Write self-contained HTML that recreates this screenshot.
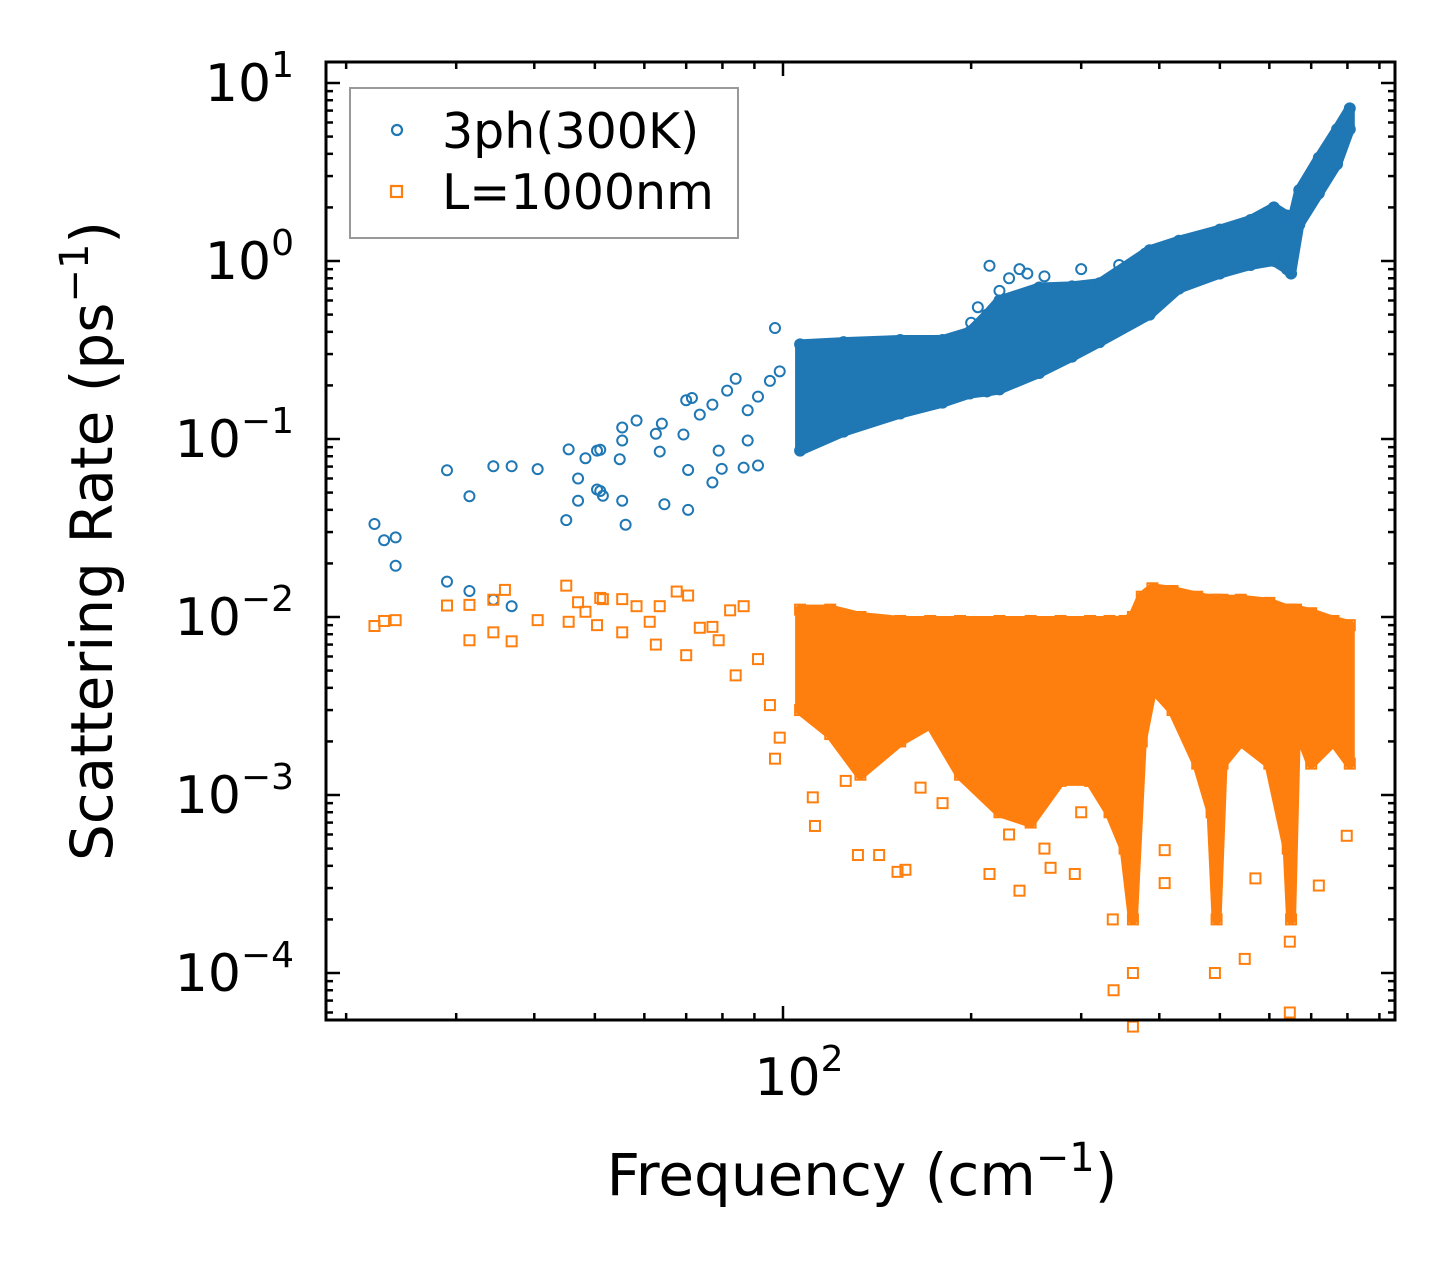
<!DOCTYPE html>
<html><head><meta charset="utf-8"><style>
html,body{margin:0;padding:0;background:#fff}
svg{display:block;font-family:"DejaVu Sans","Liberation Sans",sans-serif}
</style></head><body>
<svg id="chart" width="1455" height="1269" viewBox="0 0 1455 1269" xmlns="http://www.w3.org/2000/svg">
<rect width="1455" height="1269" fill="#fff"/>
<g id="bands"></g><g id="marks"></g><g id="axes"></g>
<g>
<rect x="350" y="88" width="388" height="150" fill="#fff" stroke="#999" stroke-width="2"/>
<circle cx="397" cy="130" r="5" fill="none" stroke="#1f77b4" stroke-width="2.2"/>
<text x="442" y="148" font-size="49">3ph(300K)</text>
<rect x="391" y="186" width="11" height="11" fill="none" stroke="#ff7f0e" stroke-width="2.2"/>
<text x="442" y="209" font-size="49">L=1000nm</text>
</g>
<text x="862" y="1195" font-size="58" text-anchor="middle">Frequency (cm<tspan dy="-24" font-size="40">−1</tspan><tspan dy="24">)</tspan></text>
<text transform="translate(112,541) rotate(-90)" font-size="58" text-anchor="middle">Scattering Rate (ps<tspan dy="-24" font-size="40">−1</tspan><tspan dy="24">)</tspan></text>
</svg>
<script>
// ---- data ----
const blueFreq=[22.2,23.0,24.0,24.0,29.0,31.5,34.4,36.8,40.5,29.0,31.5,34.4,36.8,45.0,45.4,47.0,47.0,48.3,50.4,51.0,50.4,51.0,51.5,54.8,55.3,55.3,55.3,56.0,58.3,62.6,63.5,64.6,64.0,69.3,70,70.5,71.5,73.6,77.1,77.1,78.9,79.8,81.4,84.0,86.5,87.8,87.8,91.2,91.2,95.3,97.1,98.8,214,239,262,222,70.5,230,246,200,205,300,345,380];
const blueRate=[0.0333,0.027,0.028,0.0194,0.0667,0.0477,0.0703,0.0703,0.0677,0.0158,0.014,0.0125,0.0115,0.035,0.0875,0.060,0.045,0.078,0.086,0.087,0.052,0.051,0.048,0.077,0.098,0.116,0.045,0.033,0.127,0.107,0.085,0.043,0.122,0.106,0.165,0.067,0.17,0.137,0.156,0.057,0.086,0.068,0.187,0.218,0.069,0.098,0.145,0.071,0.173,0.212,0.42,0.24,0.94,0.9,0.82,0.68,0.04,0.8,0.85,0.45,0.55,0.9,0.95,1.1];
const blueBandFreq=[106.5,125,154,180,199,212,222,257,290,321,386,430,500,560,610,640,650,670,720,770,807];
const blueBandLow=[0.086,0.11,0.139,0.16,0.18,0.185,0.19,0.235,0.29,0.35,0.5,0.7,0.85,0.95,1.0,0.9,0.85,1.6,2.4,3.5,5.5];
const blueBandHigh=[0.34,0.35,0.36,0.36,0.4,0.5,0.6,0.71,0.72,0.75,1.15,1.3,1.5,1.7,2.0,1.8,1.6,2.5,3.8,5.5,7.2];
const orFreq=[22.2,23.0,24.0,29.0,31.5,31.5,34.4,34.4,35.9,36.8,40.5,45.0,45.4,47.0,48.3,50.4,51.0,51.5,55.3,55.3,58.3,61.2,62.6,63.5,67.6,70,70.5,73.6,77.1,78.9,82.3,84.0,86.5,91.2,95.3,97.1,98.8,111.6,112.5,131.8,142.5,152.5,157,214,239,268,293,337,338,363,363,408,408,491,548,570,647,647,720,798,126,166,180,230,262,300];
const orRate=[0.0089,0.0095,0.0096,0.0116,0.0117,0.0074,0.0125,0.0082,0.0142,0.0073,0.0096,0.015,0.0094,0.0121,0.0107,0.009,0.0128,0.0126,0.0082,0.0126,0.0115,0.0094,0.007,0.0115,0.0139,0.0061,0.0132,0.0087,0.0088,0.0074,0.0109,0.0047,0.0115,0.0058,0.0032,0.0016,0.0021,0.00097,0.00067,0.00046,0.00046,0.00037,0.00038,0.00036,0.00029,0.00039,0.00036,0.0002,0.00008,0.0001,0.00005,0.00049,0.00032,0.0001,0.00012,0.00034,0.00006,0.00015,0.00031,0.00059,0.0012,0.0011,0.0009,0.0006,0.0005,0.0008];
const orBandFreq=[106.5,119,133,154,172,192,222,249,278,310,333,352,363,375,390,420,460,485,494,505,540,600,642,650,662,700,760,807];
const orBandLow=[0.003,0.0022,0.0013,0.002,0.0025,0.0013,0.0008,0.0007,0.0012,0.0012,0.0008,0.0005,0.0002,0.002,0.004,0.003,0.0015,0.0008,0.0002,0.0015,0.002,0.0015,0.0005,0.0002,0.0025,0.0015,0.002,0.0015];
const orBandHigh=[0.011,0.011,0.01,0.0095,0.0095,0.0095,0.0095,0.0095,0.0095,0.0095,0.0095,0.0095,0.01,0.013,0.0145,0.014,0.013,0.0125,0.0125,0.0125,0.0125,0.012,0.011,0.011,0.011,0.0105,0.0095,0.009];
const yTickExp=[1,0,-1,-2,-3,-4];
const xTickExp=[2];
// ---- axes ----
const L=326,R=1395,T=62,B=1020;
const X=f=>783+625*(Math.log10(f)-2);
const Y=v=>261-178*Math.log10(v);
const NS="http://www.w3.org/2000/svg";
function mk(tag,attrs,parent){const e=document.createElementNS(NS,tag);for(const k in attrs)e.setAttribute(k,attrs[k]);parent.appendChild(e);return e;}
const bands=document.getElementById('bands'),marks=document.getElementById('marks'),axes=document.getElementById('axes');
function circ(f,v){
  const c=mk('circle',{cx:X(f),cy:Y(v),r:5,fill:'none',stroke:'#1f77b4','stroke-width':2},marks);
  
  
}
function sq(f,v){
  const s=mk('rect',{x:X(f)-5,y:Y(v)-5,width:10,height:10,fill:'none',stroke:'#ff7f0e','stroke-width':2},marks);
  
  
}
function band(fr,lo,hi,color,name,marker){
  let pts=fr.map((f,i)=>X(f)+','+Y(hi[i]));
  for(let i=fr.length-1;i>=0;i--)pts.push(X(fr[i])+','+Y(lo[i]));
  const p=mk('polygon',{points:pts.join(' '),fill:color,stroke:color,'stroke-width':10,'stroke-linejoin':'round'},bands);
  
  
  fr.forEach((f,i)=>{marker(f,lo[i]);marker(f,hi[i]);});
}
band(blueBandFreq,blueBandLow,blueBandHigh,'#1f77b4','band-3ph',circ);
band(orBandFreq,orBandLow,orBandHigh,'#ff7f0e','band-l1000nm',sq);
blueFreq.forEach((f,i)=>circ(f,blueRate[i]));
orFreq.forEach((f,i)=>sq(f,orRate[i]));
const frame=mk('rect',{x:L,y:T,width:R-L,height:B-T,fill:'none',stroke:'#000','stroke-width':3},axes);


function line(x1,y1,x2,y2){mk('line',{x1,y1,x2,y2,stroke:'#000','stroke-width':2.5},axes);}
for(let e=-5;e<=1;e++){for(let m=1;m<=9;m++){const y=Y(m*Math.pow(10,e));if(y<T||y>B)continue;const len=m===1?14:7;line(L,y,L+len,y);line(R,y,R-len,y);}}
yTickExp.forEach(e=>{const t=mk('text',{x:294,y:Y(Math.pow(10,e))+18,'font-size':52,'text-anchor':'end'},axes);t.textContent='10';const s=mk('tspan',{dy:-24,'font-size':36},t);s.textContent=e<0?'−'+(-e):String(e);});
for(let e=1;e<=2;e++){for(let m=1;m<=9;m++){const x=X(m*Math.pow(10,e));if(x<L||x>R)continue;const len=m===1?14:7;line(x,B,x,B-len);line(x,T,x,T+len);}}
xTickExp.forEach(e=>{const t=mk('text',{x:X(Math.pow(10,e))+16,y:1095,'font-size':52,'text-anchor':'middle'},axes);t.textContent='10';const s=mk('tspan',{dy:-24,'font-size':36},t);s.textContent=String(e);});
</script>
</body></html>
